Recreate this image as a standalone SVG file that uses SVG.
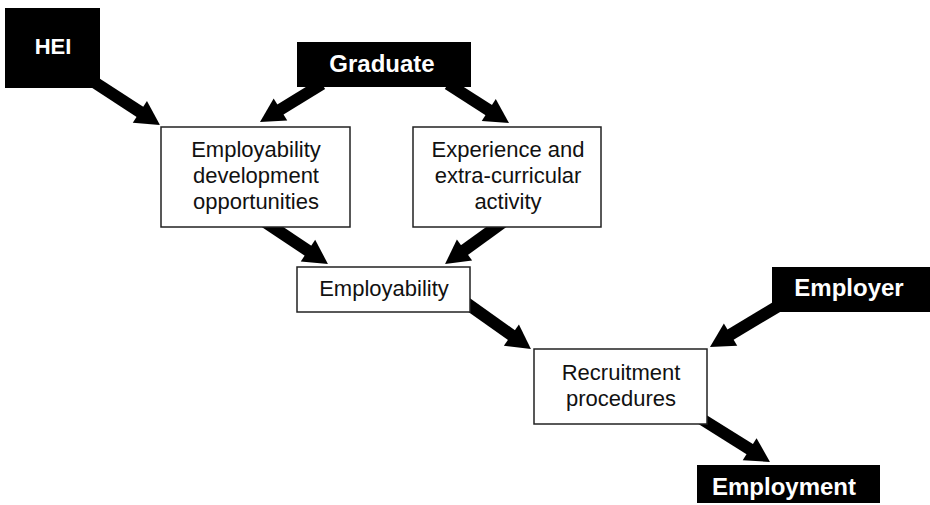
<svg xmlns="http://www.w3.org/2000/svg" width="930" height="505" viewBox="0 0 930 505">
<defs>
<style>
.blk{fill:#000}
.wbox{fill:#fff;stroke:#222;stroke-width:1.5}
.bt{font-family:"Liberation Sans",Arial,sans-serif;font-weight:bold;font-size:24px;fill:#fff;text-anchor:middle}
.nt{font-family:"Liberation Sans",Arial,sans-serif;font-size:22px;fill:#111;text-anchor:middle}
.arr{stroke:#000;stroke-width:12;fill:none;marker-end:url(#head)}
</style>
<marker id="head" markerUnits="userSpaceOnUse" markerWidth="26" markerHeight="28" viewBox="0 -14 26 28" refX="1" refY="0" orient="auto" overflow="visible">
<path d="M0,-13 L24,0 L0,13 Z" fill="#000"/>
</marker>
</defs>
<rect width="930" height="505" fill="#fff"/>
<g id="connectors">
<line class="arr" x1="94" y1="82" x2="140.7" y2="112.4"/>
<line class="arr" x1="322" y1="84" x2="279.6" y2="110"/>
<line class="arr" x1="448" y1="84" x2="489.6" y2="110.6"/>
<line class="arr" x1="262" y1="220" x2="308.8" y2="251.2"/>
<line class="arr" x1="506" y1="220" x2="463.7" y2="250.6"/>
<line class="arr" x1="462" y1="300" x2="512.2" y2="335.7"/>
<line class="arr" x1="780" y1="305" x2="729.7" y2="335.1"/>
<line class="arr" x1="700" y1="418" x2="750.5" y2="449.7"/>
</g>
<g id="hei">
<rect class="blk" x="5" y="8" width="95" height="80"/>
<text class="bt" x="53" y="54" style="font-size:22px">HEI</text>
</g>
<g id="graduate">
<rect class="blk" x="297" y="42" width="174" height="45"/>
<text class="bt" x="382" y="72">Graduate</text>
</g>
<g id="edo">
<rect class="wbox" x="161" y="127" width="189" height="100"/>
<text class="nt" x="256" y="157">Employability</text>
<text class="nt" x="256" y="183">development</text>
<text class="nt" x="256" y="209">opportunities</text>
</g>
<g id="experience">
<rect class="wbox" x="413" y="127" width="188" height="100"/>
<text class="nt" x="508" y="157">Experience and</text>
<text class="nt" x="508" y="183">extra-curricular</text>
<text class="nt" x="508" y="209">activity</text>
</g>
<g id="employability">
<rect class="wbox" x="297" y="267" width="173" height="45"/>
<text class="nt" x="384" y="296">Employability</text>
</g>
<g id="recruitment">
<rect class="wbox" x="534" y="349" width="173" height="75"/>
<text class="nt" x="621" y="380">Recruitment</text>
<text class="nt" x="621" y="406">procedures</text>
</g>
<g id="employer">
<rect class="blk" x="772" y="267" width="158" height="45"/>
<text class="bt" x="849" y="296">Employer</text>
</g>
<g id="employment">
<rect class="blk" x="697" y="465" width="183" height="38"/>
<text class="bt" x="784" y="495">Employment</text>
</g>
</svg>
